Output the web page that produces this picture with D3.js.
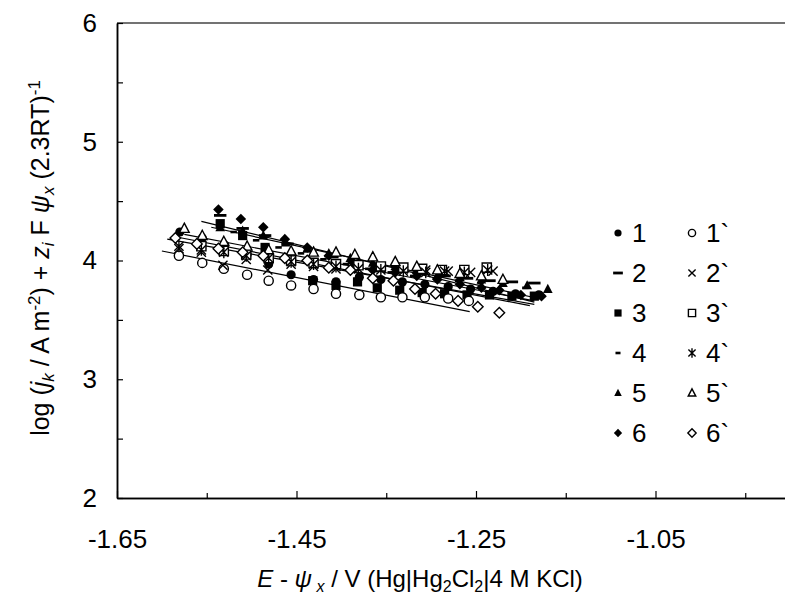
<!DOCTYPE html>
<html>
<head>
<meta charset="utf-8">
<script src="https://cdn.jsdelivr.net/npm/d3@7"></script>
<style>
body { margin: 0; background: #fff; }
svg { font-family: "Liberation Sans", Arial, sans-serif; }
</style>
</head>
<body>
<div id="chart"></div>
<script>
// meetpunten per serie [E - psi, log j + ...]
const s1 = [[-1.580,4.24],[-1.555,4.19],[-1.530,4.13],[-1.505,4.05],[-1.481,3.97],[-1.456,3.88],[-1.431,3.84],[-1.406,3.82],[-1.380,3.86],[-1.356,3.84],[-1.332,3.82],[-1.307,3.80],[-1.281,3.78],[-1.256,3.76],[-1.231,3.74],[-1.206,3.72],[-1.180,3.71]];
const s2 = [[-1.535,4.38],[-1.510,4.27],[-1.485,4.21],[-1.460,4.14],[-1.435,4.08],[-1.410,4.03],[-1.385,3.99],[-1.360,3.95],[-1.335,3.92],[-1.310,3.89],[-1.285,3.87],[-1.260,3.85],[-1.235,3.83],[-1.210,3.82],[-1.185,3.81]];
const s3 = [[-1.535,4.31],[-1.510,4.21],[-1.485,4.11],[-1.460,4.02],[-1.432,3.83],[-1.406,3.79],[-1.382,3.82],[-1.360,3.77],[-1.335,3.75],[-1.310,3.73],[-1.285,3.72],[-1.260,3.71],[-1.235,3.71],[-1.210,3.70],[-1.185,3.70]];
const s4 = [[-1.520,4.24],[-1.495,4.17],[-1.470,4.11],[-1.445,4.06],[-1.420,4.01],[-1.395,3.97],[-1.370,3.93],[-1.345,3.90],[-1.320,3.87],[-1.295,3.85],[-1.270,3.83],[-1.245,3.81],[-1.220,3.79],[-1.195,3.77]];
const s5 = [[-1.535,4.28],[-1.510,4.25],[-1.487,4.21],[-1.462,4.15],[-1.438,4.10],[-1.414,4.06],[-1.390,4.02],[-1.365,3.98],[-1.340,3.95],[-1.316,3.92],[-1.292,3.89],[-1.268,3.86],[-1.244,3.84],[-1.220,3.81],[-1.193,3.79],[-1.170,3.76]];
const s6 = [[-1.537,4.43],[-1.512,4.35],[-1.487,4.28],[-1.463,4.18],[-1.438,4.11],[-1.414,4.04],[-1.388,3.99],[-1.365,3.92],[-1.340,3.90],[-1.316,3.87],[-1.293,3.84],[-1.268,3.80],[-1.244,3.77],[-1.224,3.75],[-1.200,3.71],[-1.177,3.70]];
const s1b = [[-1.581,4.04],[-1.555,3.98],[-1.531,3.93],[-1.505,3.88],[-1.481,3.83],[-1.456,3.79],[-1.431,3.76],[-1.406,3.72],[-1.380,3.71],[-1.356,3.69],[-1.332,3.69],[-1.307,3.69],[-1.281,3.68],[-1.258,3.66]];
const s2b = [[-1.581,4.10],[-1.556,4.07],[-1.532,3.96],[-1.506,4.01],[-1.482,3.92],[-1.456,3.97],[-1.431,3.95],[-1.406,3.93],[-1.381,3.96],[-1.356,3.94],[-1.331,3.93],[-1.306,3.92],[-1.281,3.91],[-1.256,3.90],[-1.231,3.91]];
const s3b = [[-1.556,4.12],[-1.531,4.08],[-1.506,4.05],[-1.481,4.02],[-1.456,4.00],[-1.431,3.98],[-1.406,3.97],[-1.381,3.96],[-1.356,3.95],[-1.331,3.94],[-1.310,3.93],[-1.288,3.92],[-1.263,3.92],[-1.238,3.94]];
const s4b = [[-1.581,4.12],[-1.556,4.09],[-1.531,4.07],[-1.506,4.04],[-1.481,4.02],[-1.456,3.99],[-1.431,3.97],[-1.406,3.95],[-1.381,3.93],[-1.356,3.92],[-1.331,3.91],[-1.306,3.90],[-1.285,3.91],[-1.263,3.90],[-1.237,3.92]];
const s5b = [[-1.575,4.27],[-1.555,4.21],[-1.531,4.16],[-1.505,4.12],[-1.481,4.09],[-1.456,4.08],[-1.431,4.07],[-1.406,4.07],[-1.385,4.05],[-1.365,4.03],[-1.340,3.99],[-1.316,3.95],[-1.293,3.92],[-1.268,3.89],[-1.244,3.87],[-1.220,3.84]];
const s6b = [[-1.585,4.19],[-1.561,4.14],[-1.537,4.10],[-1.510,4.07],[-1.487,4.04],[-1.463,4.02],[-1.438,4.00],[-1.414,3.94],[-1.390,3.92],[-1.365,3.85],[-1.342,3.83],[-1.318,3.76],[-1.295,3.72],[-1.270,3.66],[-1.248,3.61],[-1.224,3.56]];

// regressielijnen (begin- en eindpunt)
const fitLines = [
    [[-1.600, 4.08], [-1.257, 3.57]],
    [[-1.594, 4.18], [-1.185, 3.63]],
    [[-1.585, 4.20], [-1.190, 3.62]],
    [[-1.575, 4.22], [-1.185, 3.66]],
    [[-1.545, 4.28], [-1.180, 3.68]],
    [[-1.556, 4.33], [-1.185, 3.65]]
];

const xMajor = [-1.65, -1.45, -1.25, -1.05];
const xMinor = [-1.55, -1.35, -1.15, -0.95];
const yMajor = [2, 3, 4, 5, 6];
const yMinor = [2.5, 3.5, 4.5, 5.5];

const series = [
    { name: "1", data: s1, shape: "circle", filled: true },
    { name: "2", data: s2, shape: "dash", filled: true },
    { name: "3", data: s3, shape: "square", filled: true },
    { name: "4", data: s4, shape: "shortdash", filled: true },
    { name: "5", data: s5, shape: "triangle", filled: true },
    { name: "6", data: s6, shape: "diamond", filled: true },
    { name: "1`", data: s1b, shape: "circle", filled: false },
    { name: "2`", data: s2b, shape: "cross", filled: false },
    { name: "3`", data: s3b, shape: "square", filled: false },
    { name: "4`", data: s4b, shape: "star", filled: false },
    { name: "5`", data: s5b, shape: "triangle", filled: false },
    { name: "6`", data: s6b, shape: "diamond", filled: false }
];

const width = 785, height = 597;

const x = d3.scaleLinear().domain([-1.65, -0.85]).range([117, 835]);
const y = d3.scaleLinear().domain([2, 6]).range([498, 23]);

const svg = d3.select("#chart")
    .append("svg")
    .attr("width", width)
    .attr("height", height);

// marker vormen, s = halve breedte
function markerPath(shape, s) {
    switch (shape) {
        case "circle":
            return `M${-s},0A${s},${s} 0 1,0 ${s},0A${s},${s} 0 1,0 ${-s},0Z`;
        case "square":
            return `M${-s},${-s}h${2 * s}v${2 * s}h${-2 * s}Z`;
        case "triangle":
            return `M0,${-s * 1.15}L${s * 1.05},${s * 0.85}L${-s * 1.05},${s * 0.85}Z`;
        case "diamond":
            return `M0,${-s * 1.15}L${s * 1.15},0L0,${s * 1.15}L${-s * 1.15},0Z`;
        case "dash":
            return `M${-s * 1.35},-1.4h${s * 2.7}v2.8h${-s * 2.7}Z`;
        case "shortdash":
            return `M${-s * 0.7},-1.3h${s * 1.4}v2.6h${-s * 1.4}Z`;
        case "cross":
            return `M${-s},${-s}L${s},${s}M${-s},${s}L${s},${-s}`;
        case "star":
            return `M${-s},${-s}L${s},${s}M${-s},${s}L${s},${-s}M0,${-s * 1.3}L0,${s * 1.3}`;
    }
}

function styleMarker(sel, d) {
    const lineOnly = d.shape === "cross" || d.shape === "star";
    sel.attr("fill", lineOnly ? "none" : (d.filled ? "#000" : "#fff"))
        .attr("stroke", d.filled && !lineOnly ? "none" : "#000")
        .attr("stroke-width", 1.4);
}

// assen
const xAxisMajor = d3.axisBottom(x).tickValues(xMajor).tickSizeInner(-7).tickSizeOuter(0)
    .tickPadding(32).tickFormat(d => d.toFixed(2));
const xAxisMinor = d3.axisBottom(x).tickValues(xMinor).tickSizeInner(-5).tickSizeOuter(0).tickFormat("");
const yAxisMajor = d3.axisLeft(y).tickValues(yMajor).tickSizeInner(-6).tickSizeOuter(0)
    .tickPadding(20).tickFormat(d3.format("d"));
const yAxisMinor = d3.axisLeft(y).tickValues(yMinor).tickSizeInner(-6).tickSizeOuter(0).tickFormat("");

// bovenrand
svg.append("line")
    .attr("x1", x(-1.65)).attr("x2", x(-0.85))
    .attr("y1", y(6)).attr("y2", y(6))
    .attr("stroke", "#444").attr("stroke-width", 1.5);

[xAxisMinor, xAxisMajor].forEach(ax => {
    svg.append("g")
        .attr("transform", "translate(0," + y(2) + ")")
        .call(ax);
});
[yAxisMinor, yAxisMajor].forEach(ax => {
    svg.append("g")
        .attr("transform", "translate(" + x(-1.65) + ",0)")
        .call(ax);
});
svg.selectAll(".domain").attr("stroke", "#000").attr("stroke-width", 1.5);
svg.selectAll(".tick line").attr("stroke", "#000").attr("stroke-width", 1.2);
svg.selectAll(".tick text")
    .attr("fill", "#000")
    .style("font-size", "26px")
    .style("font-family", "'Liberation Sans', Arial, sans-serif");

// lijnen
svg.append("g")
    .selectAll("line")
    .data(fitLines)
    .enter()
    .append("line")
    .attr("x1", d => x(d[0][0]))
    .attr("y1", d => y(d[0][1]))
    .attr("x2", d => x(d[1][0]))
    .attr("y2", d => y(d[1][1]))
    .attr("stroke", "#000")
    .attr("stroke-width", 1.2);

// punten
series.forEach(sr => {
    svg.append("g")
        .selectAll("path")
        .data(sr.data)
        .enter()
        .append("path")
        .attr("transform", d => "translate(" + x(d[0]) + "," + y(d[1]) + ")")
        .attr("d", markerPath(sr.shape, 4.6))
        .call(styleMarker, sr);
});

// legenda
const legend = svg.append("g");
series.forEach((sr, i) => {
    const col = i < 6 ? 0 : 1;
    const row = i % 6;
    const mx = col === 0 ? 618 : 692;
    const my = 233 + row * 40;
    legend.append("path")
        .attr("transform", "translate(" + mx + "," + my + ")")
        .attr("d", markerPath(sr.shape, 3.6))
        .call(styleMarker, sr);
    legend.append("text")
        .attr("x", mx + 14)
        .attr("y", my)
        .attr("dy", "0.36em")
        .style("font-size", "26px")
        .text(sr.name);
});

// y-as titel
const yTitle = svg.append("text")
    .attr("transform", "translate(49,258) rotate(-90)")
    .attr("text-anchor", "middle")
    .style("font-size", "25px");
yTitle.append("tspan").text("log (");
yTitle.append("tspan").style("font-style", "italic").text("j");
yTitle.append("tspan").style("font-style", "italic").style("font-size", "17px").attr("dy", 5).text("k");
yTitle.append("tspan").attr("dy", -5).text(" / A m");
yTitle.append("tspan").style("font-size", "17px").attr("dy", -9).text("-2");
yTitle.append("tspan").attr("dy", 9).text(") + ");
yTitle.append("tspan").style("font-style", "italic").text("z");
yTitle.append("tspan").style("font-style", "italic").style("font-size", "17px").attr("dy", 5).text("i");
yTitle.append("tspan").attr("dy", -5).text(" F ");
yTitle.append("tspan").style("font-style", "italic").text("ψ");
yTitle.append("tspan").style("font-style", "italic").style("font-size", "17px").attr("dy", 5).text("x");
yTitle.append("tspan").attr("dy", -5).text(" (2.3RT)");
yTitle.append("tspan").style("font-size", "17px").attr("dy", -9).text("-1");

// x-as titel
const xTitle = svg.append("text")
    .attr("x", 420)
    .attr("y", 587)
    .attr("text-anchor", "middle")
    .style("font-size", "24px");
xTitle.append("tspan").style("font-style", "italic").text("E");
xTitle.append("tspan").text(" - ");
xTitle.append("tspan").style("font-style", "italic").text("ψ");
xTitle.append("tspan").style("font-style", "italic").style("font-size", "16px").attr("dy", 5).text(" x");
xTitle.append("tspan").attr("dy", -5).text(" / V (Hg|Hg");
xTitle.append("tspan").style("font-size", "16px").attr("dy", 5).text("2");
xTitle.append("tspan").attr("dy", -5).text("Cl");
xTitle.append("tspan").style("font-size", "16px").attr("dy", 5).text("2");
xTitle.append("tspan").attr("dy", -5).text("|4 M KCl)");
</script>
</body>
</html>
